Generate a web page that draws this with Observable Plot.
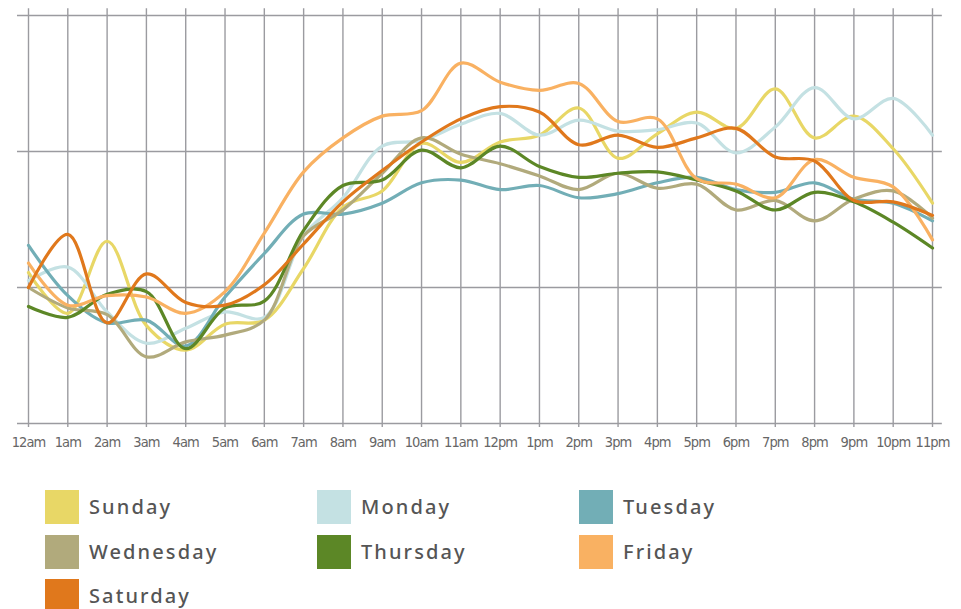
<!DOCTYPE html>
<html><head><meta charset="utf-8">
<script src="https://cdn.jsdelivr.net/npm/d3@7"></script>
<script src="https://cdn.jsdelivr.net/npm/@observablehq/plot@0.6"></script>
<style>
body{margin:0;background:#fff;overflow:hidden;}
#legend{display:grid;grid-template-columns:272px 262px 200px;grid-auto-rows:44.5px;margin-left:45px;margin-top:25px;}
.item{display:flex;align-items:center;}
.sw{width:34px;height:34px;margin-right:10px;flex:none;}
.lab{font-family:"Noto Sans",sans-serif;font-size:20px;line-height:24px;color:#555;letter-spacing:2.1px;font-weight:500;}
#chart svg g[aria-label="x-axis tick label"] text{letter-spacing:-0.9px;}
</style></head><body>
<div id="chart"></div><div id="legend"></div>
<script>
const hourLabels = ["12am","1am","2am","3am","4am","5am","6am","7am","8am","9am","10am","11am","12pm","1pm","2pm","3pm","4pm","5pm","6pm","7pm","8pm","9pm","10pm","11pm"];
const days = ["Sunday","Monday","Tuesday","Wednesday","Thursday","Friday","Saturday"];
const dayColors = ["#e8d766","#c4e1e3","#72aeb6","#b1aa7c","#5c8726","#f9b162","#e0781c"];
const sunday    = [111,81,134,72,54,73,76,114,159,171,206,192,207,212,232,195,213,229,217,246,210,226,202,162];
const monday    = [105,115,82,59,70,82,78,138,166,204,208,220,228,212,223,215,216,221,199,218,247,224,239,212];
const tuesday   = [131,94,74,76,57,93,125,154,154,162,177,179,172,175,166,169,177,181,172,170,177,165,162,149];
const wednesday = [100,85,80,49,60,65,76,138,157,184,210,198,191,182,172,184,173,176,157,164,149,165,171,151];
const thursday  = [86,78,95,97,55,85,90,142,175,179,201,188,204,189,181,184,185,179,171,157,170,163,148,129];
const friday    = [118,87,94,93,81,97,140,185,210,226,230,265,251,245,250,222,224,180,176,166,194,181,174,135];
const saturday  = [100,139,74,110,89,87,102,132,163,186,207,224,233,229,205,212,203,210,217,196,193,164,163,153];
const yGrid = [0,100,200,300];

const series = [sunday,monday,tuesday,wednesday,thursday,friday,saturday];
const hours = hourLabels.map((_, i) => i);
const rows = [];
series.forEach((vals, d) => vals.forEach((v, h) => rows.push({day: days[d], hour: h, value: v})));

const chart = Plot.plot({
  width: 961, height: 460,
  marginLeft: 28, marginRight: 29, marginTop: 15, marginBottom: 37,
  x: {domain: [0, 23]},
  y: {domain: [0, 300], axis: null},
  color: {domain: days, range: dayColors},
  style: {background: "#fff"},
  marks: [
    Plot.ruleX(hours, {x: d => d, y1: -3, y2: 305, stroke: "#9b9ba0", strokeWidth: 1.4}),
    Plot.ruleY(yGrid, {y: d => d, x1: -0.28, x2: 23.25, stroke: "#9b9ba0", strokeWidth: 1.4}),
    Plot.axisX(hours, {tickSize: 0, tickPadding: 13, tickFormat: i => hourLabels[i], label: null,
      fontSize: 14.5, fill: "#666", fontFamily: "'Liberation Sans Narrow','DejaVu Sans Condensed',sans-serif"}),
    Plot.line(rows, {x: "hour", y: "value", z: "day", stroke: "day", strokeWidth: 3.2, curve: "catmull-rom", strokeLinecap: "round"})
  ]
});
document.getElementById("chart").appendChild(chart);

const leg = document.getElementById("legend");
days.forEach((name, i) => {
  const it = document.createElement("div"); it.className = "item";
  const sw = document.createElement("div"); sw.className = "sw"; sw.style.background = dayColors[i];
  const lb = document.createElement("span"); lb.className = "lab"; lb.textContent = name;
  it.appendChild(sw); it.appendChild(lb); leg.appendChild(it);
});
</script></body></html>
